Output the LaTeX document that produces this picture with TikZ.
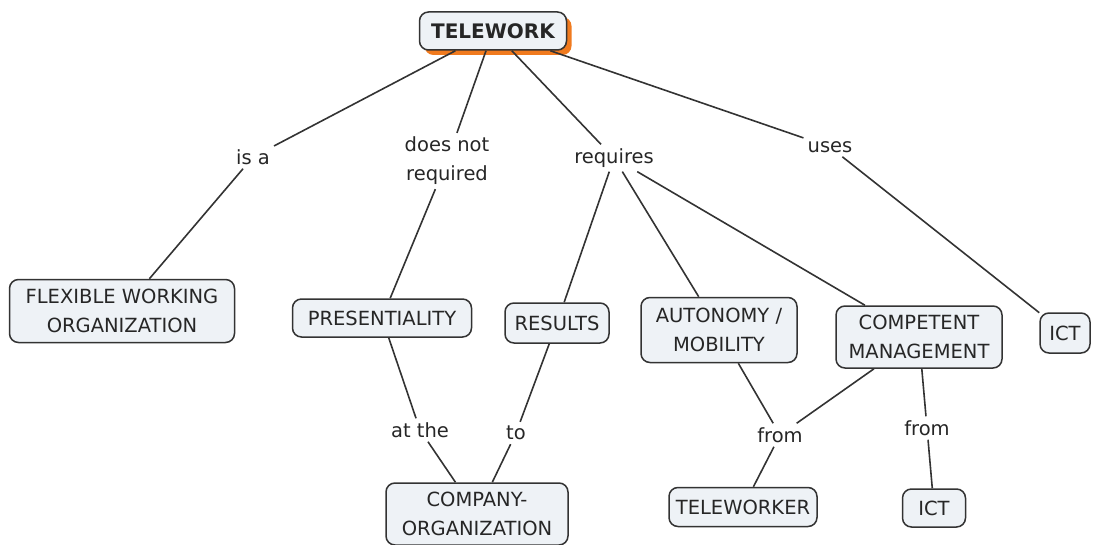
\documentclass[tikz,border=0pt]{standalone}
\usepackage{fontspec}
\setmainfont{DejaVu Sans}
\usetikzlibrary{shadows}

\definecolor{boxfill}{HTML}{EEF2F6}
\definecolor{boxline}{HTML}{333333}
\definecolor{shadoworange}{HTML}{F07A1E}

\begin{document}
\begin{tikzpicture}[x=1pt,y=-1pt,
                font=\fontsize{19.5}{29}\selectfont,
                concept/.style={rectangle,rounded corners=9pt,draw=boxline,fill=boxfill,
                                line width=1.5pt,align=center,text=black!85,inner sep=2pt},
                main concept/.style={concept,font=\fontsize{20}{29}\selectfont\bfseries,
                                drop shadow={shadow xshift=5pt,shadow yshift=-5pt,fill=shadoworange,opacity=1}},
                link/.style={align=center,inner sep=4pt,text=black!85}]
	\useasboundingbox (0,0) rectangle (1094,545);

	\node[main concept,minimum width=147pt,minimum height=38pt] (1) at (493,31) {TELEWORK};
	\node[concept,minimum width=225pt,minimum height=63pt] (2) at (122,311) {FLEXIBLE WORKING\\ORGANIZATION};
	\node[concept,minimum width=179pt,minimum height=38pt] (3) at (382,318) {PRESENTIALITY};
	\node[concept,minimum width=104pt,minimum height=40pt] (4) at (557,323) {RESULTS};
	\node[concept,minimum width=156pt,minimum height=65pt] (5) at (719,330) {AUTONOMY /\\MOBILITY};
	\node[concept,minimum width=166pt,minimum height=62pt] (6) at (919,337) {COMPETENT\\MANAGEMENT};
	\node[concept,minimum width=50pt,minimum height=40pt] (7) at (1065,333) {ICT};
	\node[concept,minimum width=182pt,minimum height=62pt] (8) at (477,514) {COMPANY-\\ORGANIZATION};
	\node[concept,minimum width=148pt,minimum height=39pt] (9) at (743,507) {TELEWORKER};
	\node[concept,minimum width=63pt,minimum height=38pt] (10) at (934,508) {ICT};

	\node[link] (a) at (253,157) {is a};
	\node[link] (b) at (447,161) {does not\\required};
	\node[link] (c) at (614,158) {requires};
	\node[link] (d) at (830,147) {uses};
	\node[link] (e) at (420,430) {at the};
	\node[link] (f) at (516,433) {to};
	\node[link] (g) at (780,435) {from};
	\node[link] (h) at (927,428) {from};

	\path[draw=boxline,line width=1.6pt]
	(1) edge (a)
	(a) edge (2)
	(1) edge (b)
	(b) edge (3)
	(1) edge (c)
	(c) edge (4)
	(c) edge (5)
	(c) edge (6)
	(1) edge (d)
	(d) edge (7)
	(3) edge (e)
	(e) edge (8)
	(4) edge (f)
	(f) edge (8)
	(5) edge (g)
	(6) edge (g)
	(g) edge (9)
	(6) edge (h)
	(h) edge (10);

\end{tikzpicture}
\end{document}
